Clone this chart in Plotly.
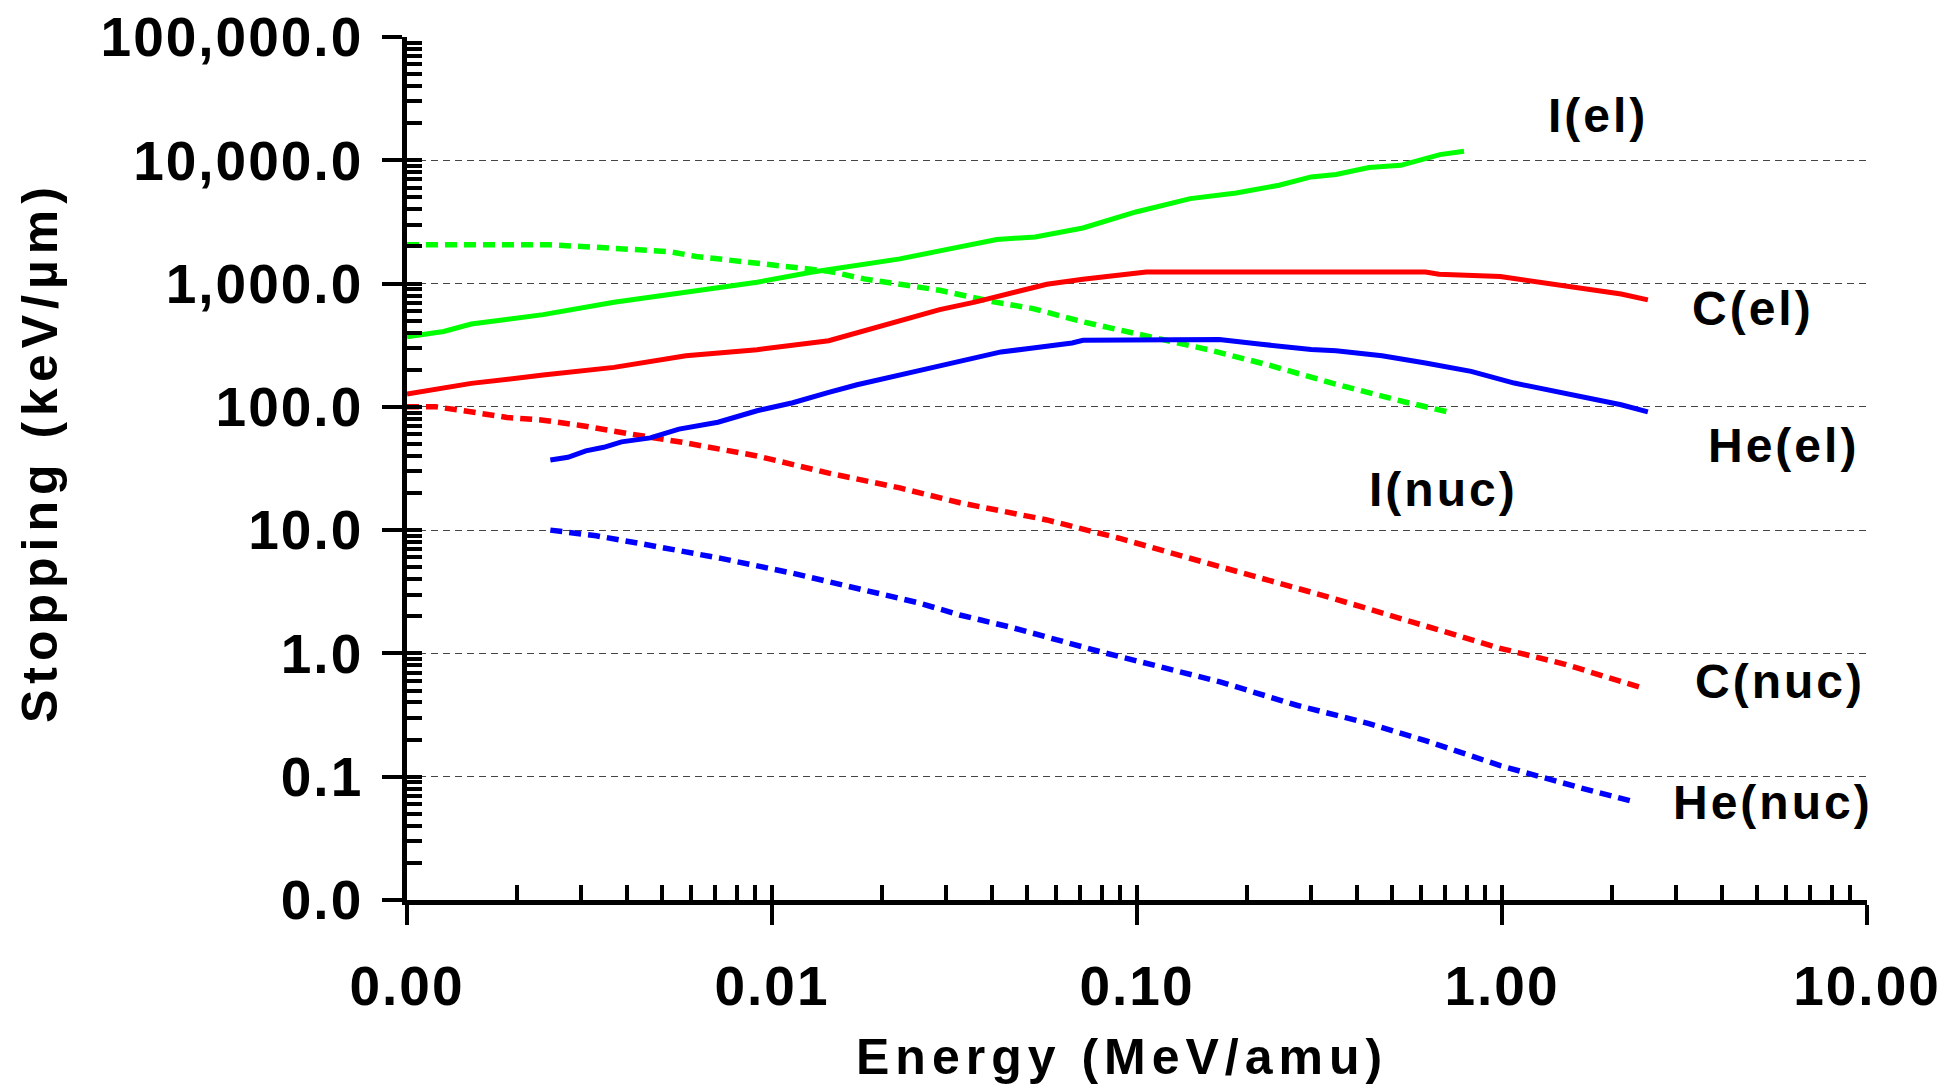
import plotly.graph_objects as go

# ---------------- data ----------------
I_el_E = [0.001, 0.00126, 0.0015, 0.00236, 0.00369, 0.00542, 0.0091, 0.0128, 0.0224, 0.0288,
          0.0413, 0.0526, 0.0711, 0.0993, 0.14, 0.187, 0.245, 0.30, 0.351, 0.432, 0.528, 0.676, 0.787]
I_el_S = [371, 409, 470, 560, 705, 824, 1026, 1236, 1585, 1841,
          2275, 2390, 2825, 3810, 4890, 5430, 6270, 7330, 7660, 8730, 9100, 11120, 11830]

I_nuc_E = [0.001, 0.00247, 0.00324, 0.00519, 0.0062, 0.0091, 0.0114, 0.0143, 0.0179, 0.0234,
           0.0288, 0.0405, 0.0519, 0.0711, 0.111, 0.156, 0.23, 0.344, 0.539, 0.735]
I_nuc_S = [2061, 2061, 1974, 1820, 1660, 1463, 1340, 1259, 1091, 982,
           883, 710, 627, 489, 370, 292, 218, 155, 110, 89]

C_el_E = [0.001, 0.0012, 0.0015, 0.00236, 0.00369, 0.00581, 0.0091, 0.0143, 0.0224, 0.0288,
          0.0362, 0.0452, 0.0566, 0.0711, 0.0933, 0.106, 0.617, 0.672, 0.989, 1.24, 1.70, 2.12, 2.51]
C_el_S = [127, 139, 155, 181, 209, 260, 291, 344, 500, 615,
          710, 840, 988, 1084, 1191, 1240, 1240, 1190, 1140, 1038, 916, 824, 738]

He_el_E = [0.00247, 0.00276, 0.00309, 0.00346, 0.00387, 0.00464, 0.00556, 0.00711, 0.0091, 0.0114,
           0.0143, 0.0171, 0.0251, 0.0327, 0.0424, 0.0506, 0.0664, 0.0711, 0.102, 0.111, 0.168,
           0.219, 0.30, 0.351, 0.469, 0.617, 0.823, 1.08, 1.36, 1.70, 2.12, 2.51]
He_el_S = [37, 39, 44, 47, 52, 56, 66, 75, 93, 108,
           131, 151, 196, 237, 279, 297, 330, 347, 347, 355, 352,
           322, 292, 285, 260, 227, 194, 156, 136, 121, 104, 91]

C_nuc_E = [0.001, 0.0012, 0.00143, 0.00188, 0.00236, 0.00296, 0.00413, 0.00581, 0.0091, 0.0143,
           0.0224, 0.0327, 0.0566, 0.0893, 0.146, 0.219, 0.344, 0.578, 0.989, 1.48, 2.40]
C_nuc_S = [100, 100, 93, 82, 78, 71, 60, 51, 40, 29,
           22, 16.7, 12.1, 8.6, 5.7, 4.07, 2.80, 1.77, 1.10, 0.82, 0.53]

He_nuc_E = [0.00247, 0.0033, 0.00444, 0.00725, 0.0114, 0.0171, 0.0251, 0.0327, 0.0452, 0.0796,
            0.168, 0.274, 0.432, 0.617, 0.989, 1.70, 2.33]
He_nuc_S = [10, 9.0, 7.7, 5.9, 4.47, 3.37, 2.58, 2.05, 1.63, 1.03,
            0.59, 0.38, 0.27, 0.196, 0.123, 0.079, 0.062]

x_tickvals = [0.001, 0.01, 0.1, 1, 10]
x_ticktext = ["0.00", "0.01", "0.10", "1.00", "10.00"]
y_tickvals = [0.01, 0.1, 1, 10, 100, 1000, 10000, 100000]
y_ticktext = ["0.0", "0.1", "1.0", "10.0", "100.0", "1,000.0", "10,000.0", "100,000.0"]

labels = ["I(el)", "C(el)", "He(el)", "I(nuc)", "C(nuc)", "He(nuc)"]
label_x = [0.263, 0.688, 0.770, -0.159, 0.762, 0.742]      # log10 energy
label_y = [4.367, 2.794, 1.683, 1.326, -0.231, -1.212]     # log10 stopping

x_title = "Energy (MeV/amu)"
y_title = "Stopping (keV/µm)"

# ---------------- styling ----------------
FONT = "Liberation Sans, Arial, sans-serif"
GREEN, RED, BLUE = "#00FF00", "#FF0000", "#0000FF"
SOLID_W, DASH_W = 5, 5.5
DASH = "12px,7px"


def spaced(t, px):
    return f"<span style='letter-spacing:{px}px'>{t}</span>"


series = [
    (I_el_E, I_el_S, GREEN, "solid", SOLID_W, "I(el)"),
    (I_nuc_E, I_nuc_S, GREEN, DASH, DASH_W, "I(nuc)"),
    (C_el_E, C_el_S, RED, "solid", SOLID_W, "C(el)"),
    (C_nuc_E, C_nuc_S, RED, DASH, DASH_W, "C(nuc)"),
    (He_el_E, He_el_S, BLUE, "solid", SOLID_W, "He(el)"),
    (He_nuc_E, He_nuc_S, BLUE, DASH, DASH_W, "He(nuc)"),
]

fig = go.Figure()
for ex, sy, col, dash, w, name in series:
    fig.add_trace(go.Scatter(x=ex, y=sy, mode="lines", name=name,
                             line=dict(color=col, width=w, dash=dash)))

# invisible trace to activate overlay axes (for the inner half of the major ticks)
fig.add_trace(go.Scatter(x=[], y=[], xaxis="x2", yaxis="y2", showlegend=False, hoverinfo="skip"))

x_minor = [d * m for d in [0.001, 0.01, 0.1, 1] for m in range(2, 10)]
y_minor = [d * m for d in [0.01, 0.1, 1, 10, 100, 1000, 10000] for m in range(2, 10)]

tickfont = dict(family=FONT, size=55, color="black", weight="bold")
titlefont = dict(family=FONT, size=50, color="black", weight="bold")

fig.update_layout(
    width=1944, height=1088,
    margin=dict(l=407, r=77, t=37, b=188),
    paper_bgcolor="white", plot_bgcolor="white",
    showlegend=False,
    font=dict(family=FONT, color="black"),
    xaxis=dict(
        type="log", range=[-3, 1],
        tickmode="array", tickvals=x_tickvals,
        ticktext=[spaced(t, 2) for t in x_ticktext],
        ticks="outside", ticklen=20, tickwidth=4, tickcolor="black",
        ticklabelstandoff=14,
        tickfont=tickfont,
        showline=True, linecolor="black", linewidth=4.5,
        showgrid=False, zeroline=False,
        minor=dict(tickmode="array", tickvals=x_minor, ticks="inside", ticklen=15,
                   tickwidth=4, tickcolor="black", showgrid=False),
        automargin=False,
    ),
    yaxis=dict(
        type="log", range=[-2, 5],
        tickmode="array", tickvals=y_tickvals,
        ticktext=[spaced(t, 2) for t in y_ticktext],
        ticks="outside", ticklen=20, tickwidth=4, tickcolor="black",
        ticklabelstandoff=8,
        tickfont=tickfont,
        showline=True, linecolor="black", linewidth=4.5,
        showgrid=True, gridcolor="#444444", gridwidth=1, griddash="7px,5px",
        zeroline=False,
        minor=dict(tickmode="array", tickvals=y_minor, ticks="inside", ticklen=15,
                   tickwidth=4, tickcolor="black", showgrid=False),
        automargin=False,
    ),
    xaxis2=dict(type="log", range=[-3, 1], overlaying="x", anchor="y2",
                tickmode="array", tickvals=x_tickvals, ticks="inside", ticklen=15,
                tickwidth=4, tickcolor="black", showticklabels=False,
                showline=False, showgrid=False, zeroline=False),
    yaxis2=dict(type="log", range=[-2, 5], overlaying="y", anchor="x2", side="left",
                tickmode="array", tickvals=y_tickvals, ticks="inside", ticklen=15,
                tickwidth=4, tickcolor="black", showticklabels=False,
                showline=False, showgrid=False, zeroline=False),
)

# axis titles
fig.add_annotation(x=0.4897, y=-0.182, xref="paper", yref="paper", text=spaced(x_title, 6),
                   showarrow=False, xanchor="center", yanchor="middle", font=titlefont)
fig.add_annotation(x=-0.2514, y=0.519, xref="paper", yref="paper", text=spaced(y_title, 6),
                   textangle=-90, showarrow=False, xanchor="center", yanchor="middle",
                   font=titlefont)

for t, lx, ly in zip(labels, label_x, label_y):
    fig.add_annotation(x=lx, y=ly, xref="x", yref="y", text=spaced(t, 3), showarrow=False,
                       xanchor="center", yanchor="middle",
                       font=dict(family=FONT, size=48, color="black", weight="bold"))

fig.write_html("out.html")
